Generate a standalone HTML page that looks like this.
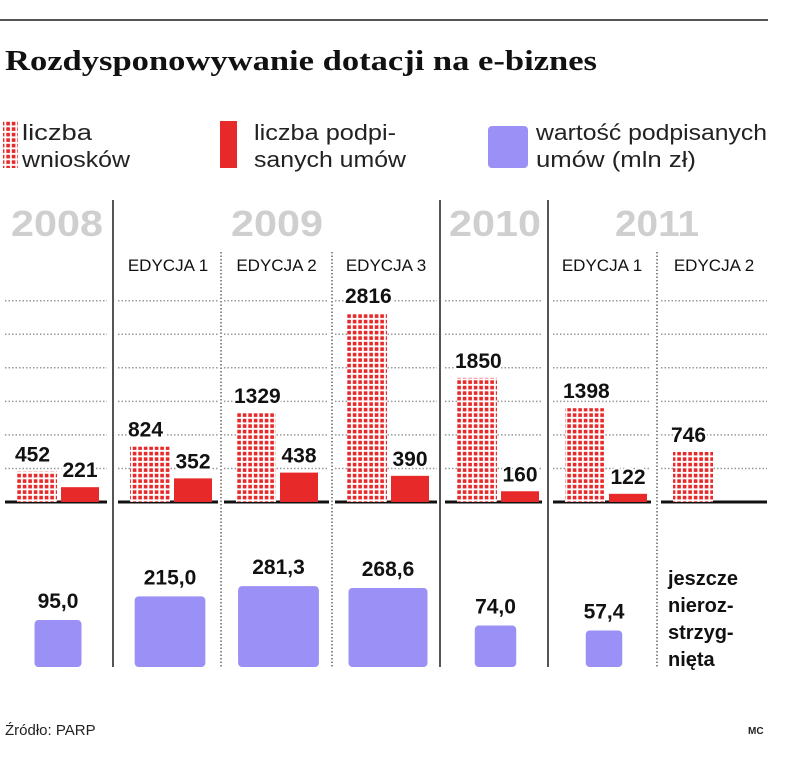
<!DOCTYPE html>
<html><head><meta charset="utf-8"><style>
body{margin:0;background:#fff;}
svg{display:block;font-family:"Liberation Sans",sans-serif;}
</style></head><body>
<svg id="c" width="805" height="757" viewBox="0 0 805 757">
<defs>
<pattern id="dots" width="5.5" height="5.5" patternUnits="userSpaceOnUse">
<rect width="5.5" height="5.5" fill="#fff"/>
<rect x="0.8" y="0.8" width="3.6" height="3.6" fill="#e8292a"/>
</pattern>
</defs>
<line x1="0" y1="20" x2="768" y2="20" stroke="#555" stroke-width="2"/>
<text x="5" y="70" font-family="Liberation Serif, serif" font-weight="bold" font-size="29" textLength="592" lengthAdjust="spacingAndGlyphs" fill="#111">Rozdysponowywanie dotacji na e-biznes</text>
<g>
<rect x="3" y="121" width="15" height="47" fill="url(#dots)"/>
<text font-size="22" fill="#222"><tspan x="22" y="140" textLength="70" lengthAdjust="spacingAndGlyphs">liczba</tspan><tspan x="22" y="167" textLength="108" lengthAdjust="spacingAndGlyphs">wniosków</tspan></text>
<rect x="220" y="121" width="17" height="47" fill="#e8292a"/>
<text font-size="22" fill="#222"><tspan x="254" y="140" textLength="142" lengthAdjust="spacingAndGlyphs">liczba podpi-</tspan><tspan x="254" y="167" textLength="152" lengthAdjust="spacingAndGlyphs">sanych umów</tspan></text>
<rect x="488" y="126" width="40" height="42" rx="4" fill="#9a90f5"/>
<text font-size="22" fill="#222"><tspan x="536" y="140" textLength="231" lengthAdjust="spacingAndGlyphs">wartość podpisanych</tspan><tspan x="536" y="167" textLength="160" lengthAdjust="spacingAndGlyphs">umów (mln zł)</tspan></text>
</g>
<g id="g"></g>
<text font-size="20" font-weight="bold" fill="#111"><tspan x="668" y="585">jeszcze</tspan><tspan x="668" y="612">nieroz-</tspan><tspan x="668" y="639">strzyg-</tspan><tspan x="668" y="666">nięta</tspan></text>
<text x="5" y="735" font-size="15" fill="#222">Źródło: PARP</text>
<text x="748" y="734" font-size="10" font-weight="bold" fill="#222">MC</text>
</svg>
<script>
const categories=["2008","2009 E1","2009 E2","2009 E3","2010","2011 E1","2011 E2"];
const applications=[452,824,1329,2816,1850,1398,746];
const contracts=[221,352,438,390,160,122,null];
const values=[95.0,215.0,281.3,268.6,74.0,57.4,null];
const yearLabels=["2008","2009","2010","2011"];
const editionLabels=["","EDYCJA 1","EDYCJA 2","EDYCJA 3","","EDYCJA 1","EDYCJA 2"];
const gridTicks=[500,1000,1500,2000,2500,3000];

const NS="http://www.w3.org/2000/svg";
const g=document.getElementById('g');
function mk(t,a,p){const e=document.createElementNS(NS,t);for(const k in a)e.setAttribute(k,a[k]);(p||g).appendChild(e);return e;}
const base=502,scale=0.0671;
const y=v=>base-v*scale;
const colL=[5,118,224,335,445,553,661];
const colR=[107,218,329,437,542,651,767];
const yearX=[57,277,495,657];
const solidSeps=[113,440,548];
const dotSeps=[221,332,657];
const fmt=v=>v.toFixed(1).replace('.',',');

yearLabels.forEach((t,i)=>{const e=mk('text',{x:yearX[i],y:236,'text-anchor':'middle','font-size':36,'font-weight':'bold',fill:'#cfcfcf',textLength:(t==="2011"?84:92),lengthAdjust:'spacingAndGlyphs'});


e.textContent=t;});
solidSeps.forEach((x,i)=>{const e=mk('line',{x1:x,y1:200,x2:x,y2:667,stroke:'#555','stroke-width':2});

});
dotSeps.forEach(x=>{const e=mk('line',{x1:x,y1:252,x2:x,y2:667,stroke:'#666','stroke-width':1.5,'stroke-dasharray':'1.5 2'});

});
categories.forEach((c,i)=>{
 gridTicks.forEach(v=>{const e=mk('line',{x1:colL[i],y1:y(v),x2:colR[i],y2:y(v),stroke:'#999','stroke-width':1.5,'stroke-dasharray':'1.5 2'});
 
 });
 const b=mk('line',{x1:colL[i],y1:base,x2:colR[i],y2:base,stroke:'#111','stroke-width':3});
 
 
 if(editionLabels[i]){const e=mk('text',{x:(colL[i]+colR[i])/2,y:271,'text-anchor':'middle','font-size':17,fill:'#111'});
 
 
 e.textContent=editionLabels[i];}
});
categories.forEach((c,i)=>{
 const x0=colL[i]+12;
 const a=applications[i];
 const r=mk('rect',{x:x0,y:y(a),width:40,height:a*scale,fill:'url(#dots)'});
 
 
 const t=mk('text',{x:x0-2,y:y(a)-10,'font-size':21,'font-weight':'bold',fill:'#111',stroke:'#fff','stroke-width':4,'paint-order':'stroke'});
 
 
 t.textContent=a;
 const cv=contracts[i];
 if(cv!==null){
  const r2=mk('rect',{x:x0+44,y:y(cv),width:38,height:cv*scale,fill:'#e8292a'});
  
  
  const t2=mk('text',{x:x0+63,y:y(cv)-10,'text-anchor':'middle','font-size':21,'font-weight':'bold',fill:'#111',stroke:'#fff','stroke-width':4,'paint-order':'stroke'});
  
  
  t2.textContent=cv;
 }
 const v=values[i];
 if(v!==null){
  const s=4.82*Math.sqrt(v),cx=(colL[i]+colR[i])/2+2;
  const q=mk('rect',{x:cx-s/2,y:667-s,width:s,height:s,rx:4,fill:'#9a90f5'});
  
  
  const t3=mk('text',{x:cx,y:667-s-12,'text-anchor':'middle','font-size':21,'font-weight':'bold',fill:'#111'});
  
  
  t3.textContent=fmt(v);
 }
});
</script>
</body></html>
